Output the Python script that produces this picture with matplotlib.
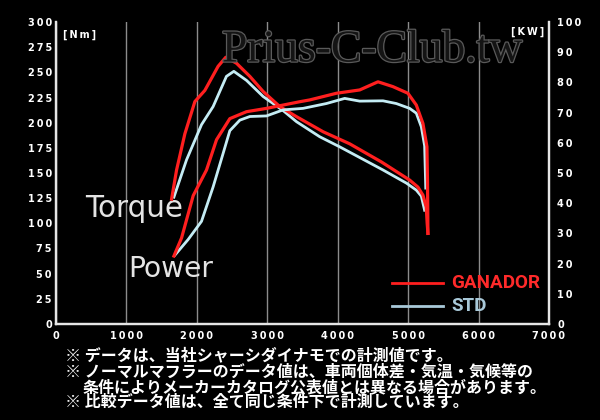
"""Dyno chart: GANADOR muffler vs STD, torque and power."""

import matplotlib
matplotlib.use("Agg")
import matplotlib.pyplot as plt
import matplotlib.patheffects as pe

# === Data ===
ganador_torque_rpm = [1641, 1712, 1830, 1972, 2113, 2302, 2411, 2563, 2752, 2941,
                      3177, 3414, 3792, 4170, 4620, 5021, 5139, 5210, 5257, 5270, 5281]
ganador_torque_nm = [124, 153, 189, 221, 232, 256, 265, 259, 246, 231,
                     216, 206, 191, 179, 161, 143, 136, 128, 116, 100, 90]

std_torque_rpm = [1674, 1853, 2066, 2231, 2420, 2525, 2705, 2941, 3225, 3414,
                  3745, 4028, 4643, 4974, 5116, 5187, 5234]
std_torque_nm = [126, 163, 198, 216, 246, 251, 242, 226, 212, 201,
                 186, 176, 153, 140, 133, 127, 113]

ganador_power_rpm = [1674, 1783, 1948, 2137, 2279, 2468, 2705, 2989, 3225, 3461,
                     3603, 3981, 4312, 4572, 4784, 4997, 5116, 5210, 5267, 5275, 5281]
ganador_power_kw = [22.5, 28.5, 42.5, 51, 61, 68, 70.3, 71.4, 72.5, 73.6,
                    74.2, 76.4, 77.5, 80.2, 78.6, 76.4, 72.5, 66.4, 58.7, 47, 30]

std_power_rpm = [1688, 1877, 2066, 2231, 2373, 2468, 2610, 2752, 2989, 3225,
                 3508, 3839, 4099, 4312, 4643, 4832, 5021, 5116, 5187, 5234, 5250]
std_power_kw = [22.8, 28, 34, 45.4, 56.5, 64, 67.5, 68.7, 68.9, 70.9,
                71.4, 73, 74.7, 73.8, 73.9, 73, 71.4, 69.8, 65.3, 59, 45]

rpm_ticks = [0, 1000, 2000, 3000, 4000, 5000, 6000, 7000]
nm_ticks = [0, 25, 50, 75, 100, 125, 150, 175, 200, 225, 250, 275, 300]
kw_ticks = [0, 10, 20, 30, 40, 50, 60, 70, 80, 90, 100]

notes = [
    "※ データは、当社シャーシダイナモでの計測値です。",
    "※ ノーマルマフラーのデータ値は、車両個体差・気温・気候等の",
    "条件によりメーカーカタログ公表値とは異なる場合があります。",
    "※ 比較データ値は、全て同じ条件下で計測しています。",
]

RED = "#ff1f1f"
BLUE = "#c4ecf4"
SPINE = "#e6e6e6"


def spaced(v):
    # letter-spaced tick digits like the original artwork
    return "\u2009".join(str(v))


def fit_width(txt, target_px):
    # shrink/grow a text so it spans the same width as in the artwork
    r = fig.canvas.get_renderer()
    w = txt.get_window_extent(renderer=r).width
    txt.set_fontsize(txt.get_fontsize() * target_px / w)
    return txt.get_fontsize()


fig = plt.figure(figsize=(6, 4.2), dpi=100, facecolor="black")
ax = fig.add_axes([56 / 600, 96 / 420, 493 / 600, 302 / 420])
ax.set_facecolor("black")
ax2 = ax.twinx()

ax.set_xlim(0, 7000)
ax.set_ylim(0, 300)
ax2.set_ylim(0, 100)

ax.set_xticks(rpm_ticks)
ax.set_xticklabels([spaced(v) for v in rpm_ticks])
ax.set_yticks(nm_ticks)
ax.set_yticklabels([spaced(v) for v in nm_ticks])
ax2.set_yticks(kw_ticks)
ax2.set_yticklabels([spaced(v) for v in kw_ticks])

ax.grid(axis="x", color="#8c8c8c", linewidth=1)
ax.grid(axis="y", visible=False)
ax2.grid(False)

for a in (ax, ax2):
    a.tick_params(length=0, colors="white", labelsize=7)
    for lab in a.get_xticklabels() + a.get_yticklabels():
        lab.set_fontweight("bold")
    a.spines["top"].set_visible(False)
    for side in ("left", "right", "bottom"):
        a.spines[side].set_color(SPINE)
        a.spines[side].set_linewidth(1.6)
ax.tick_params(axis="y", pad=3)
ax.tick_params(axis="x", pad=5)
ax2.tick_params(axis="y", pad=6)

# watermark
wm = fig.text(222 / 600, 1 - 61.5 / 420, "Prius-C-Club.tw", ha="left",
              va="baseline", fontsize=32, family="Liberation Serif", color="#141414",
              zorder=0.5,
              path_effects=[pe.withStroke(linewidth=1.8, foreground="#5a5a5a")])
fit_width(wm, 301)

# curves
ax.plot(std_torque_rpm, std_torque_nm, color=BLUE, linewidth=2, zorder=3)
ax.plot(ganador_torque_rpm, ganador_torque_nm, color=RED, linewidth=2.3, zorder=4)
ax2.plot(std_power_rpm, std_power_kw, color=BLUE, linewidth=2, zorder=3)
ax2.plot(ganador_power_rpm, ganador_power_kw, color=RED, linewidth=2.3, zorder=4)

# curve labels
tq = ax.text(411, 115, "Torque", color="#e4e4e4", fontsize=20, ha="left", va="center")
pw = ax.text(1021, 55, "Power", color="#e4e4e4", fontsize=20, ha="left", va="center")
fit_width(tq, 98)
fit_width(pw, 85)

# unit labels
ax.text(0.015, 0.975, "[\u2009N\u2009m\u2009]", transform=ax.transAxes, color="white",
        fontsize=7, fontweight="bold", ha="left", va="top")
ax.text(0.99, 0.985, "[\u2009K\u2009W\u2009]", transform=ax.transAxes, color="white",
        fontsize=7, fontweight="bold", ha="right", va="top")

# legend (hand drawn like the original)
fig.add_artist(plt.Line2D([392 / 600, 443 / 600], [1 - 282.5 / 420] * 2,
                          color=RED, linewidth=2))
fig.add_artist(plt.Line2D([392 / 600, 443 / 600], [1 - 305.5 / 420] * 2,
                          color="#a9c9d9", linewidth=2))
g = fig.text(451 / 600, 1 - 283 / 420, "GANADOR", color="#ff2a2a", fontsize=15,
             fontweight="bold", family="Roboto", ha="left", va="center")
size = fit_width(g, 89)
fig.text(451 / 600, 1 - 306 / 420, "STD", color="#a9c9d9", fontsize=size,
         fontweight="bold", family="Roboto", ha="left", va="center")

# footnotes
jp = ["Noto Sans CJK JP", "DejaVu Sans"]
note_x = [65, 65, 83, 65]
note_y = [355, 371.5, 386.7, 401.7]
for txt, x, y in zip(notes, note_x, note_y):
    fig.text(x / 600, 1 - y / 420, txt, color="white", fontsize=11.5,
             fontweight="bold", family=jp, ha="left", va="center")

fig.savefig("out.png", dpi=100, facecolor="black")
